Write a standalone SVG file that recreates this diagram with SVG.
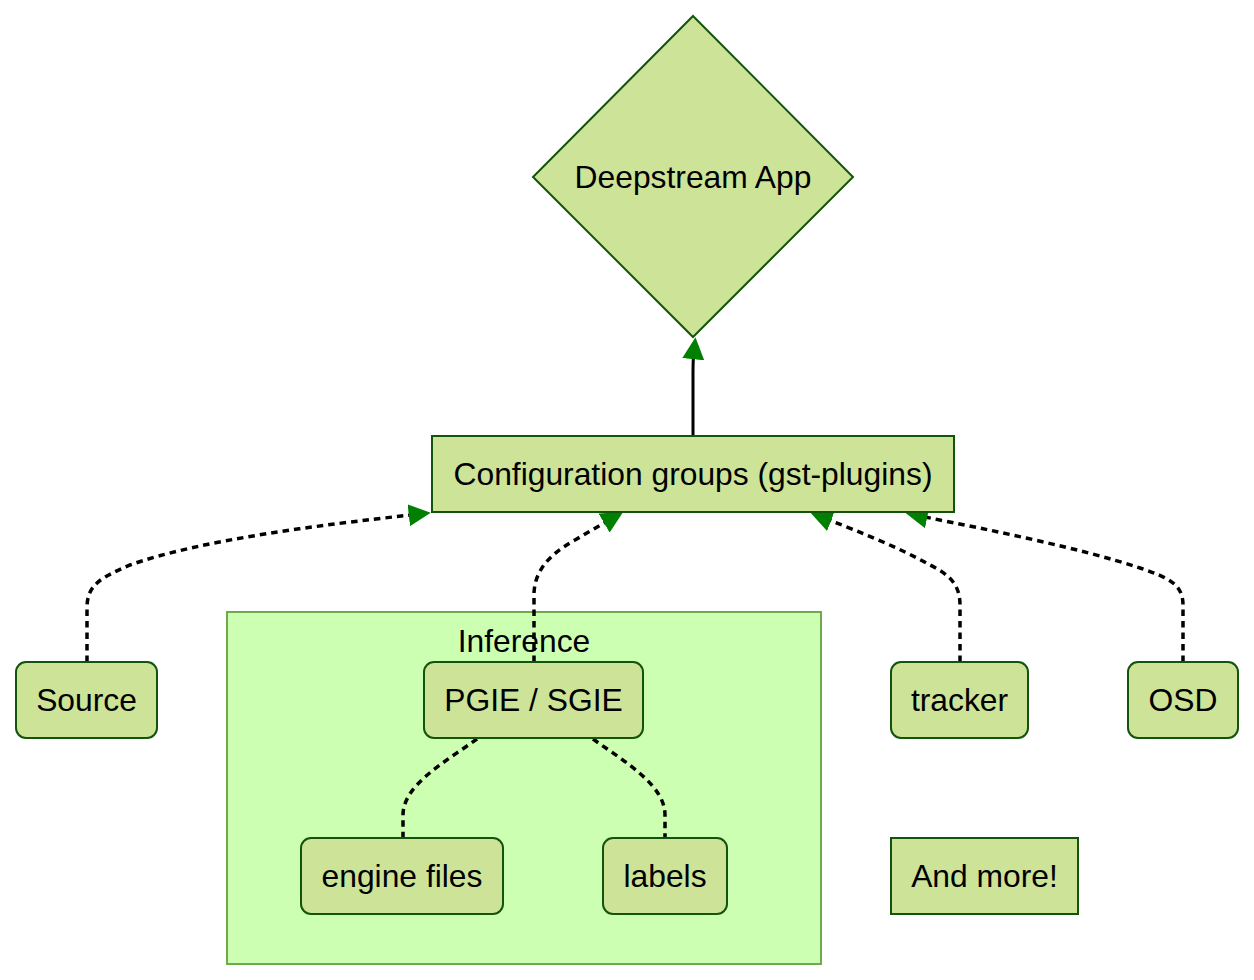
<svg xmlns="http://www.w3.org/2000/svg" width="1254" height="980" viewBox="0 0 1254 980">
<style>
  .node { fill: #cde498; stroke: #13540c; stroke-width: 2; }
  .cluster { fill: #cdffb2; stroke: #6eaa49; stroke-width: 2; }
  .lbl { font-family: "Liberation Sans", Arial, sans-serif; font-size: 31.8px; fill: #000; text-anchor: middle; }
  .edge { fill: none; stroke: #000; stroke-width: 3; }
  .dotted { fill: none; stroke: #000; stroke-width: 3.5; stroke-dasharray: 6.5 5; }
</style>
<defs>
  <marker id="arrow" viewBox="0 0 10 10" refX="1" refY="5" markerUnits="userSpaceOnUse" markerWidth="22" markerHeight="22" orient="auto">
    <path d="M0,0 L10,5 L0,10 z" fill="#008000"/>
  </marker>
</defs>
<rect fill="#ffffff" x="0" y="0" width="1254" height="980"/>

<g id="cluster-inference">
  <rect class="cluster" x="227" y="612" width="594" height="352"/>
  <text class="lbl" x="524" y="652">Inference</text>
</g>

<g id="connectors">
  <path class="edge" d="M693,436 L693,374 Q693,362 693.5,357" marker-end="url(#arrow)"/>
  <path class="dotted" d="M87,662 L87,608 C87,585 100,578 130,565 C200,540 320,525 411,515" marker-end="url(#arrow)"/>
  <path class="dotted" d="M534,662 L534,595 C534,572 548,555 575,540 L606,522" marker-end="url(#arrow)"/>
  <path class="dotted" d="M960,662 L960,605 C960,585 950,575 930,565 C900,548 860,532 829,520" marker-end="url(#arrow)"/>
  <path class="dotted" d="M1183,662 L1183,605 C1183,585 1170,578 1140,568 C1080,548 990,530 925,517" marker-end="url(#arrow)"/>
  <path class="dotted" d="M477,739 C445,762 403,785 403,815 L403,838"/>
  <path class="dotted" d="M593,739 C625,762 665,785 665,815 L665,838"/>
</g>

<g id="node-deepstream">
  <polygon class="node" points="693,16 853,177 693,337 533,177"/>
  <text class="lbl" x="693" y="188">Deepstream App</text>
</g>
<g id="node-config">
  <rect class="node" x="432" y="436" width="522" height="76"/>
  <text class="lbl" x="693" y="485">Configuration groups (gst-plugins)</text>
</g>
<g id="node-source">
  <rect class="node" x="16" y="662" width="141" height="76" rx="10"/>
  <text class="lbl" x="86.5" y="711">Source</text>
</g>
<g id="node-pgie">
  <rect class="node" x="424" y="662" width="219" height="76" rx="10"/>
  <text class="lbl" x="533.5" y="711">PGIE / SGIE</text>
</g>
<g id="node-tracker">
  <rect class="node" x="891" y="662" width="137" height="76" rx="10"/>
  <text class="lbl" x="959.5" y="711">tracker</text>
</g>
<g id="node-osd">
  <rect class="node" x="1128" y="662" width="110" height="76" rx="10"/>
  <text class="lbl" x="1183" y="711">OSD</text>
</g>
<g id="node-engine">
  <rect class="node" x="301" y="838" width="202" height="76" rx="10"/>
  <text class="lbl" x="402" y="887">engine files</text>
</g>
<g id="node-labels">
  <rect class="node" x="603" y="838" width="124" height="76" rx="10"/>
  <text class="lbl" x="665" y="887">labels</text>
</g>
<g id="node-more">
  <rect class="node" x="891" y="838" width="187" height="76"/>
  <text class="lbl" x="984.5" y="887">And more!</text>
</g>
</svg>
